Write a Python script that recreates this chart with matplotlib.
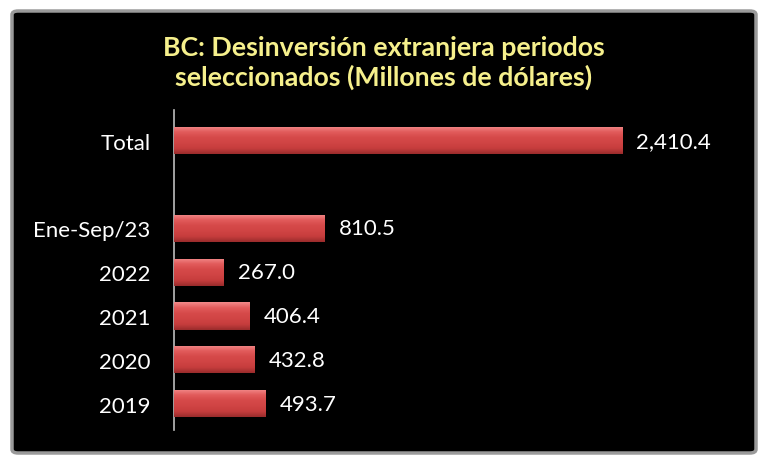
import numpy as np
import matplotlib
matplotlib.use("Agg")
import matplotlib.pyplot as plt
from matplotlib.patches import FancyBboxPatch
from matplotlib.colors import LinearSegmentedColormap

# data
categories = ["Total", "", "Ene-Sep/23", "2022", "2021", "2020", "2019"]
values = [2410.4, np.nan, 810.5, 267.0, 406.4, 432.8, 493.7]
labels = ["2,410.4", "", "810.5", "267.0", "406.4", "432.8", "493.7"]
title = "BC: Desinversión extranjera periodos\nseleccionados (Millones de dólares)"

W, H = 768, 464
fig = plt.figure(figsize=(W / 100, H / 100), dpi=100, facecolor="white")
plt.rcParams["font.family"] = ["Lato", "DejaVu Sans"]

# black rounded panel
panel = FancyBboxPatch((12 / W, 10 / H), 744 / W, 442 / H,
                       boxstyle="round,pad=0,rounding_size=0.008",
                       transform=fig.transFigure, facecolor="black",
                       edgecolor="#9a9a9a", lw=2.5, zorder=-1)
fig.patches.append(panel)

fig.text(0.5, 1 - 63 / H, title, ha="center", va="center", color="#F6F08C",
         fontsize=19.3, fontweight="bold", linespacing=1.22)

# axes placed so the 7 slots are ~43.8 px apart, Total centred at y=142 px
ax_l, ax_r = 174, 713
ax_t, ax_b = 111, 431
ax = fig.add_axes([ax_l / W, 1 - ax_b / H, (ax_r - ax_l) / W, (ax_b - ax_t) / H])
ax.set_zorder(2)
ax.set_facecolor("none")
y = np.arange(len(categories))

bar_h = 0.62
vals = np.nan_to_num(values)
bars = ax.barh(y, vals, height=bar_h, color="#cc3b3b", edgecolor="none", zorder=2)

cmap = LinearSegmentedColormap.from_list(
    "redg", ["#f28a8a", "#e25c5c", "#d64a4a", "#d04444", "#c63d3d", "#9a2c2c"])
grad = np.linspace(0, 1, 100).reshape(-1, 1)
for b, v, yy in zip(bars, vals, y):
    if v <= 0:
        continue
    im = ax.imshow(grad, cmap=cmap, aspect="auto", origin="upper",
                   extent=[0, v, yy + bar_h / 2, yy - bar_h / 2], zorder=3)
    im.set_clip_path(b)

for v, yy, lab in zip(vals, y, labels):
    if v <= 0:
        continue
    ax.text(v + 75, yy, lab, va="center", ha="left", color="white", fontsize=16)

ax.set_xlim(0, 2900)
ax.set_ylim(6.6, -0.7)
ax.set_yticks(y)
ax.set_yticklabels(categories, color="white", fontsize=16)
ax.tick_params(axis="y", length=0, pad=17)
ax.set_xticks([])
for s in ["top", "right", "bottom"]:
    ax.spines[s].set_visible(False)
ax.spines["left"].set_color("#bdbdbd")
ax.spines["left"].set_linewidth(1.2)

fig.savefig("out.png", dpi=100, facecolor="white")
